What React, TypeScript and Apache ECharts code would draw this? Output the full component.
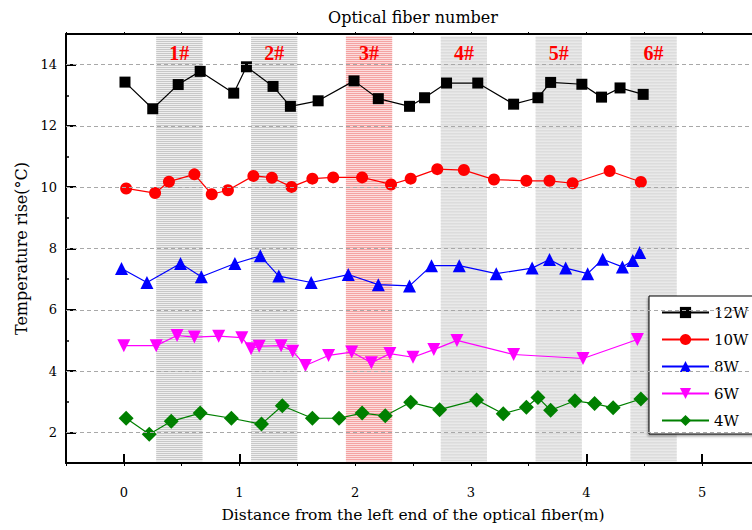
import React, { useEffect, useRef } from "react";
import * as echarts from "echarts";

// ---- data ----
const x12 = [0.01, 0.25, 0.47, 0.66, 0.95, 1.06, 1.29, 1.44, 1.68, 1.99, 2.2, 2.47, 2.6, 2.79, 3.06, 3.37, 3.58, 3.69, 3.96, 4.13, 4.29, 4.49];
const y12 = [13.43, 12.56, 13.35, 13.78, 13.07, 13.93, 13.29, 12.64, 12.82, 13.47, 12.89, 12.64, 12.92, 13.4, 13.4, 12.71, 12.92, 13.42, 13.36, 12.94, 13.24, 13.03];

const x10 = [0.02, 0.27, 0.39, 0.61, 0.76, 0.9, 1.12, 1.28, 1.45, 1.63, 1.81, 2.06, 2.31, 2.48, 2.71, 2.94, 3.2, 3.48, 3.68, 3.88, 4.2, 4.47];
const y10 = [9.96, 9.81, 10.18, 10.42, 9.77, 9.9, 10.37, 10.31, 10.01, 10.28, 10.32, 10.32, 10.09, 10.28, 10.59, 10.56, 10.25, 10.21, 10.21, 10.13, 10.53, 10.17];

const x8 = [-0.02, 0.2, 0.49, 0.67, 0.96, 1.18, 1.34, 1.62, 1.94, 2.2, 2.47, 2.66, 2.9, 3.22, 3.53, 3.68, 3.82, 4.01, 4.14, 4.31, 4.4, 4.46];
const y8 = [7.35, 6.89, 7.51, 7.08, 7.51, 7.76, 7.1, 6.89, 7.15, 6.82, 6.78, 7.44, 7.44, 7.18, 7.36, 7.64, 7.36, 7.18, 7.65, 7.4, 7.61, 7.87];

const x6 = [0.0, 0.28, 0.46, 0.61, 0.82, 1.02, 1.1, 1.17, 1.36, 1.46, 1.57, 1.77, 1.97, 2.14, 2.3, 2.5, 2.68, 2.88, 3.37, 3.97, 4.44];
const y6 = [4.83, 4.83, 5.16, 5.11, 5.14, 5.09, 4.73, 4.81, 4.83, 4.65, 4.18, 4.51, 4.62, 4.27, 4.57, 4.45, 4.7, 5.0, 4.54, 4.41, 5.03];

const x4 = [0.02, 0.22, 0.41, 0.66, 0.93, 1.19, 1.37, 1.63, 1.86, 2.06, 2.26, 2.48, 2.73, 3.05, 3.28, 3.48, 3.58, 3.69, 3.9, 4.07, 4.23, 4.47];
const y4 = [2.46, 1.94, 2.36, 2.63, 2.46, 2.27, 2.87, 2.46, 2.46, 2.63, 2.54, 2.98, 2.74, 3.06, 2.61, 2.82, 3.14, 2.72, 3.03, 2.94, 2.8, 3.09];

const bandStarts = [0.28, 1.1, 1.92, 2.74, 3.56, 4.38];
const bandEnds = [0.68, 1.5, 2.32, 3.14, 3.96, 4.78];
const bandLabels = ["1#", "2#", "3#", "4#", "5#", "6#"];
const bandBack = ["#efefef", "#efefef", "#fcdcdc", "#f1f1f1", "#f1f1f1", "#f1f1f1"];
const bandStripe = ["#c8c8c8", "#c8c8c8", "#f4a2a2", "#d4d4d4", "#d4d4d4", "#d4d4d4"];
const bandFine = [false, false, false, true, true, true];

const xTickValues = [0, 1, 2, 3, 4, 5];
const yTickValues = [2, 4, 6, 8, 10, 12, 14];

const X_MIN = -0.5;
const X_MAX = 5.5;
const Y_MIN = 1;
const Y_MAX = 15;

const FONT = '"DejaVu Serif", serif';
const LFONT = '"Liberation Serif", "Times New Roman", serif';

const zip = (xs: number[], ys: number[]) => xs.map((x, i) => [x, ys[i]]);

export default function App() {
  const ref = useRef<HTMLDivElement>(null);

  useEffect(() => {
    if (!ref.current) return;
    const chart = echarts.init(ref.current, undefined, { renderer: "svg" });

    const bandSeries: any = {
      type: "custom",
      name: "bands",
      xAxisIndex: 0,
      yAxisIndex: 0,
      z: 1,
      silent: true,
      clip: true,
      data: bandStarts.map((s, i) => [s, bandEnds[i]]),
      encode: { x: [0, 1] },
      renderItem: (params: any, api: any) => {
        const idx = params.dataIndex;
        const x0 = api.value(0);
        const x1 = api.value(1);
        const pTop = api.coord([x0, Y_MAX]);
        const pBot = api.coord([x1, Y_MIN]);
        const left = pTop[0];
        const right = pBot[0];
        const top = pTop[1] + 2;
        const bottom = pBot[1] - 1;
        const fine = bandFine[idx];
        const children: any[] = [
          {
            type: "rect",
            silent: true,
            shape: { x: left, y: top, width: right - left, height: bottom - top },
            style: { fill: bandBack[idx], stroke: null },
          },
        ];
        const step = fine ? 1.5 : 2;
        for (let y = Math.round(top) + 1; y < bottom - 1; y += step) {
          children.push({
            type: "rect",
            silent: true,
            shape: { x: left, y, width: right - left, height: fine ? 0.75 : 1 },
            style: { fill: bandStripe[idx], stroke: null },
          });
        }
        children.push({
          type: "text",
          silent: true,
          style: {
            text: bandLabels[idx],
            x: (left + right) / 2,
            y: pTop[1] + 19,
            align: "center",
            verticalAlign: "middle",
            fill: "#ff0000",
            font: `bold 20px ${LFONT}`,
          },
        });
        return { type: "group", children };
      },
    };

    const mk = (name: string, xs: number[], ys: number[], color: string, symbol: string, size: number, rotate = 0, extra: any = {}) => ({
      name,
      type: "line",
      xAxisIndex: 0,
      yAxisIndex: 0,
      z: 3,
      data: zip(xs, ys),
      symbol,
      symbolSize: size,
      symbolRotate: rotate,
      showSymbol: true,
      lineStyle: { color, width: 1.2 },
      itemStyle: { color, borderWidth: 0 },
      ...extra,
    });

    const option: any = {
      animation: false,
      backgroundColor: "#ffffff",
      textStyle: { fontFamily: FONT },
      grid: { left: 66, top: 34, width: 694, height: 429, containLabel: false, outerBoundsMode: "none" },
      legend: {
        orient: "vertical",
        left: 649,
        top: 296,
        padding: [9, 60, 6, 12],
        itemWidth: 47,
        itemHeight: 14,
        itemGap: 12,
        borderColor: "#000",
        borderWidth: 1,
        backgroundColor: "#fff",
        shadowColor: "rgba(0,0,0,0.35)",
        shadowOffsetX: -1,
        shadowOffsetY: 2,
        shadowBlur: 2,
        textStyle: { fontFamily: FONT, fontSize: 15, color: "#000" },
        data: ["12W", "10W", "8W", "6W", "4W"],
      },
      xAxis: [
        {
          type: "value",
          position: "bottom",
          min: X_MIN,
          max: X_MAX,
          interval: 0.5,
          axisLine: { show: true, onZero: false, lineStyle: { color: "#000", width: 2 } },
          axisTick: { show: true, inside: false, length: 3, lineStyle: { color: "#000", width: 1 } },
          axisLabel: { show: false },
          splitLine: { show: false },
        },
        {
          type: "value",
          position: "bottom",
          min: X_MIN,
          max: X_MAX,
          axisLine: { show: false, onZero: false },
          axisTick: { show: true, inside: true, length: 9, customValues: xTickValues, lineStyle: { color: "#000", width: 2 } },
          axisLabel: { show: true, customValues: xTickValues, margin: 23, fontSize: 13, color: "#000", fontFamily: FONT },
          splitLine: { show: false },
          name: "Distance from the left end of the optical fiber(m)",
          nameLocation: "middle",
          nameGap: 44,
          nameTextStyle: { fontSize: 15.5, color: "#000", fontFamily: FONT },
        },
        {
          type: "value",
          position: "top",
          min: X_MIN,
          max: X_MAX,
          interval: 0.5,
          axisLine: { show: true, onZero: false, lineStyle: { color: "#000", width: 2 } },
          axisTick: { show: true, inside: false, length: 2, lineStyle: { color: "#000", width: 1 } },
          axisLabel: { show: false },
          splitLine: { show: false },
          name: "Optical fiber number",
          nameLocation: "middle",
          nameGap: 9,
          nameTextStyle: { fontSize: 16, color: "#000", fontFamily: FONT },
        },
      ],
      yAxis: [
        {
          type: "value",
          position: "left",
          min: Y_MIN,
          max: Y_MAX,
          interval: 1,
          axisLine: { show: true, onZero: false, lineStyle: { color: "#000", width: 2 } },
          axisTick: { show: true, inside: true, length: 3, lineStyle: { color: "#000", width: 1.5 } },
          axisLabel: { show: false },
          splitLine: { show: false },
          name: "Temperature rise(°C)",
          nameLocation: "middle",
          nameGap: 37,
          nameRotate: 90,
          nameTextStyle: { fontSize: 16, color: "#000", fontFamily: FONT },
        },
        {
          type: "value",
          position: "left",
          min: Y_MIN,
          max: Y_MAX,
          axisLine: { show: false, onZero: false },
          axisTick: { show: true, inside: true, length: 10, customValues: yTickValues, lineStyle: { color: "#000", width: 2 } },
          axisLabel: { show: true, customValues: yTickValues, margin: 9, fontSize: 13, color: "#000", fontFamily: FONT },
          splitLine: { show: false },
        },
      ],
      series: [
        bandSeries,
        mk("12W", x12, y12, "#000000", "rect", 11, 0, {
          markLine: {
            silent: true,
            symbol: "none",
            label: { show: false },
            lineStyle: { color: "#a8a8a8", type: [4, 3], width: 1 },
            data: yTickValues.map((v) => ({ yAxis: v })),
          },
        }),
        mk("10W", x10, y10, "#ff0000", "circle", 12),
        mk("8W", x8, y8, "#0000ff", "triangle", 13),
        mk("6W", x6, y6, "#ff00ff", "triangle", 13, 180),
        mk("4W", x4, y4, "#008000", "diamond", 15),
      ],
    };

    chart.setOption(option);
    return () => chart.dispose();
  }, []);

  return (
    <div
      ref={ref}
      style={{ position: "fixed", left: 0, top: 0, width: 752, height: 530, background: "#fff" }}
    />
  );
}
